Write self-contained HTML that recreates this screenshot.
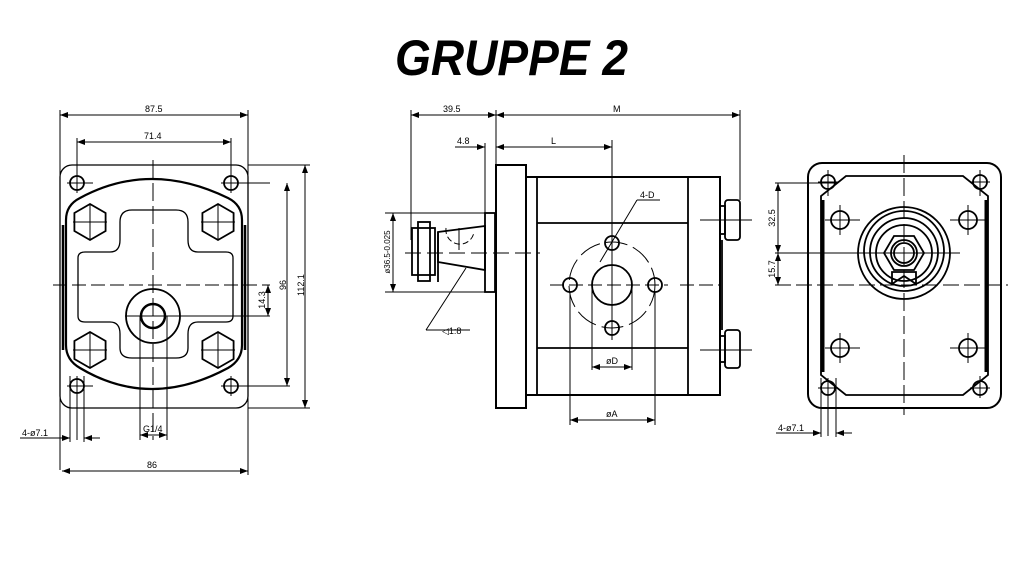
<!DOCTYPE html>
<html><head><meta charset="utf-8"><style>
html,body{margin:0;padding:0;background:#fff;width:1024px;height:576px;overflow:hidden}
svg{display:block}
text{font-family:"Liberation Sans",sans-serif;fill:#000}
</style></head><body>
<svg width="1024" height="576" viewBox="0 0 1024 576" xmlns="http://www.w3.org/2000/svg">
<defs>
<marker id="a" markerWidth="8" markerHeight="6" refX="8" refY="3" orient="auto-start-reverse" markerUnits="userSpaceOnUse"><path d="M0,0 L8,3 L0,6 z" fill="#000"/></marker>
</defs>
<text x="395" y="75" font-size="50" font-weight="bold" font-style="italic" textLength="233" lengthAdjust="spacingAndGlyphs">GRUPPE 2</text>

<g fill="none" stroke="#000" stroke-width="1.3">
<!-- LEFT VIEW -->
<rect x="60" y="165" width="188" height="243" rx="12"/>
<path d="M66,220 Q66,205 80,198 Q150,160 228,198 Q242,205 242,220 L242,345 Q242,360 228,368 Q150,410 80,368 Q66,360 66,345 Z" stroke-width="2.2"/>
<line x1="63" y1="225" x2="63" y2="350" stroke-width="2.5"/>
<line x1="245" y1="225" x2="245" y2="350" stroke-width="2.5"/>
<path d="M78,258 Q78,252 85,252 L110,252 Q120,252 120,240 L120,222 Q120,210 132,210 L176,210 Q188,210 188,222 L188,240 Q188,252 198,252 L226,252 Q233,252 233,258 L233,316 Q233,322 226,322 L198,322 Q188,322 188,334 L188,348 Q188,358 176,358 L132,358 Q120,358 120,348 L120,334 Q120,322 110,322 L85,322 Q78,322 78,316 Z"/>
<g stroke-width="1.8">
<circle cx="77" cy="183" r="7"/><circle cx="231" cy="183" r="7"/><circle cx="77" cy="386" r="7"/><circle cx="231" cy="386" r="7"/>
<polygon points="90,204 105.6,213 105.6,231 90,240 74.4,231 74.4,213"/>
<polygon points="218,204 233.6,213 233.6,231 218,240 202.4,231 202.4,213"/>
<polygon points="90,332 105.6,341 105.6,359 90,368 74.4,359 74.4,341"/>
<polygon points="218,332 233.6,341 233.6,359 218,368 202.4,359 202.4,341"/>
<circle cx="153" cy="316" r="27"/><circle cx="153" cy="316" r="12" stroke-width="2.5"/>
</g>
<g stroke-width="1">
<line x1="67" y1="183" x2="93" y2="183"/><line x1="77" y1="160" x2="77" y2="193"/>
<line x1="221" y1="183" x2="270" y2="183"/><line x1="231" y1="160" x2="231" y2="193"/>
<line x1="67" y1="386" x2="93" y2="386"/><line x1="77" y1="376" x2="77" y2="440"/>
<line x1="221" y1="386" x2="290" y2="386"/><line x1="231" y1="376" x2="231" y2="396"/>
<line x1="73" y1="222" x2="107" y2="222"/><line x1="90" y1="205" x2="90" y2="240"/>
<line x1="201" y1="222" x2="235" y2="222"/><line x1="218" y1="205" x2="218" y2="240"/>
<line x1="73" y1="350" x2="107" y2="350"/><line x1="90" y1="333" x2="90" y2="368"/>
<line x1="201" y1="350" x2="235" y2="350"/><line x1="218" y1="333" x2="218" y2="368"/>
<line x1="53" y1="285" x2="270" y2="285" stroke-dasharray="14,5"/>
<line x1="153" y1="160" x2="153" y2="440" stroke-dasharray="18,5"/>
<line x1="125" y1="316" x2="270" y2="316"/>
<line x1="140" y1="316" x2="140" y2="440"/><line x1="167" y1="316" x2="167" y2="440"/>
<line x1="60" y1="110" x2="60" y2="470"/><line x1="248" y1="110" x2="248" y2="475"/>
<line x1="60" y1="115" x2="248" y2="115" marker-start="url(#a)" marker-end="url(#a)"/>
<line x1="77" y1="138" x2="77" y2="160"/><line x1="231" y1="138" x2="231" y2="160"/>
<line x1="77" y1="142" x2="231" y2="142" marker-start="url(#a)" marker-end="url(#a)"/>
<line x1="248" y1="165" x2="310" y2="165"/><line x1="248" y1="408" x2="310" y2="408"/>
<line x1="305" y1="165" x2="305" y2="408" marker-start="url(#a)" marker-end="url(#a)"/>
<line x1="287" y1="183" x2="287" y2="386" marker-start="url(#a)" marker-end="url(#a)"/>
<line x1="268" y1="285" x2="268" y2="316" marker-start="url(#a)" marker-end="url(#a)"/>
<line x1="62" y1="471" x2="248" y2="471" marker-start="url(#a)" marker-end="url(#a)"/>
<line x1="140" y1="435" x2="167" y2="435" marker-start="url(#a)" marker-end="url(#a)"/>
<line x1="20" y1="438" x2="70" y2="438" marker-end="url(#a)"/><line x1="84" y1="438" x2="100" y2="438" marker-start="url(#a)"/>
<line x1="70" y1="376" x2="70" y2="442"/><line x1="84" y1="376" x2="84" y2="442"/>
</g>

<!-- MIDDLE VIEW -->
<rect x="496" y="165" width="30" height="243" stroke-width="2"/>
<rect x="526" y="177" width="194" height="218" stroke-width="2"/>
<line x1="537" y1="177" x2="537" y2="395" stroke-width="1.8"/>
<line x1="688" y1="177" x2="688" y2="395" stroke-width="1.8"/>
<line x1="537" y1="223" x2="688" y2="223" stroke-width="1.8"/>
<line x1="537" y1="348" x2="688" y2="348" stroke-width="1.8"/>
<g stroke-width="1.8">
<rect x="725" y="200" width="15" height="40" rx="3"/><rect x="720" y="206" width="5" height="28"/>
<rect x="725" y="330" width="15" height="38" rx="3"/><rect x="720" y="336" width="5" height="26"/>
<line x1="722" y1="240" x2="722" y2="330"/>
<circle cx="612" cy="285" r="20"/>
<circle cx="612" cy="243" r="7"/><circle cx="612" cy="328" r="7"/><circle cx="570" cy="285" r="7"/><circle cx="655" cy="285" r="7"/>
<rect x="485" y="213" width="10" height="79"/>
<polygon points="438,232 485,226 485,270 438,262"/>
<rect x="412" y="228" width="23" height="47"/>
<rect x="418" y="222" width="12" height="59"/>
<line x1="438" y1="232" x2="438" y2="282"/>
</g>
<g stroke-width="1">
<circle cx="612" cy="285" r="43" stroke-dasharray="22,6"/>
<path d="M446,228 A14,14 0 0 0 474,232" stroke-dasharray="6,3"/>
<line x1="459" y1="228" x2="459" y2="250"/>
<line x1="405" y1="253" x2="540" y2="253" stroke-dasharray="16,6"/>
<line x1="550" y1="285" x2="668" y2="285" stroke-dasharray="14,5"/>
<line x1="680" y1="285" x2="720" y2="285" stroke-dasharray="14,5"/>
<line x1="700" y1="220" x2="752" y2="220"/><line x1="700" y1="350" x2="752" y2="350"/>
<line x1="612" y1="140" x2="612" y2="340"/>
<line x1="592" y1="285" x2="592" y2="370"/><line x1="632" y1="285" x2="632" y2="370"/>
<line x1="592" y1="367" x2="632" y2="367" marker-start="url(#a)" marker-end="url(#a)"/>
<line x1="570" y1="292" x2="570" y2="425"/><line x1="655" y1="292" x2="655" y2="425"/>
<line x1="570" y1="420" x2="655" y2="420" marker-start="url(#a)" marker-end="url(#a)"/>
<line x1="600" y1="262" x2="637" y2="200"/><line x1="637" y1="200" x2="660" y2="200"/>
<line x1="411" y1="110" x2="411" y2="240"/><line x1="496" y1="110" x2="496" y2="165"/><line x1="740" y1="110" x2="740" y2="200"/>
<line x1="411" y1="115" x2="496" y2="115" marker-start="url(#a)" marker-end="url(#a)"/>
<line x1="496" y1="115" x2="740" y2="115" marker-start="url(#a)" marker-end="url(#a)"/>
<line x1="485" y1="143" x2="485" y2="213"/>
<line x1="455" y1="147" x2="485" y2="147" marker-end="url(#a)"/>
<line x1="496" y1="147" x2="612" y2="147" marker-start="url(#a)" marker-end="url(#a)"/>
<line x1="385" y1="213" x2="485" y2="213"/><line x1="385" y1="292" x2="485" y2="292"/>
<line x1="393" y1="213" x2="393" y2="292" marker-start="url(#a)" marker-end="url(#a)"/>
<line x1="426" y1="330" x2="466" y2="268"/><line x1="426" y1="330" x2="470" y2="330"/>
</g>

<!-- RIGHT VIEW -->
<rect x="808" y="163" width="193" height="245" rx="14" stroke-width="2"/>
<polygon points="846,176 963,176 988,196 988,375 963,395 846,395 821,375 821,196" stroke-width="1.8"/>
<line x1="823" y1="200" x2="823" y2="372" stroke-width="3"/>
<line x1="986" y1="200" x2="986" y2="372" stroke-width="3"/>
<g stroke-width="1.8">
<circle cx="828" cy="182" r="7"/><circle cx="980" cy="182" r="7"/><circle cx="828" cy="388" r="7"/><circle cx="980" cy="388" r="7"/>
<circle cx="840" cy="220" r="9"/><circle cx="968" cy="220" r="9"/><circle cx="840" cy="348" r="9"/><circle cx="968" cy="348" r="9"/>
<circle cx="904" cy="253" r="46"/><circle cx="904" cy="251" r="40"/><circle cx="904" cy="252" r="34"/><circle cx="904" cy="253" r="28"/>
<polygon points="924,253 914,270 894,270 884,253 894,236 914,236"/>
<circle cx="904" cy="253" r="13"/><circle cx="904" cy="253" r="10"/>
<path d="M892,272 L916,272 L916,284 L904,276 L892,284 Z"/>
</g>
<g stroke-width="1">
<line x1="904" y1="155" x2="904" y2="415" stroke-dasharray="18,5"/>
<line x1="775" y1="285" x2="1008" y2="285" stroke-dasharray="16,5"/>
<line x1="775" y1="253" x2="960" y2="253"/>
<line x1="775" y1="183" x2="838" y2="183"/>
<line x1="778" y1="183" x2="778" y2="253" marker-start="url(#a)" marker-end="url(#a)"/>
<line x1="778" y1="253" x2="778" y2="285" marker-start="url(#a)" marker-end="url(#a)"/>
<line x1="818" y1="182" x2="838" y2="182"/><line x1="828" y1="170" x2="828" y2="196"/>
<line x1="970" y1="182" x2="990" y2="182"/><line x1="980" y1="170" x2="980" y2="196"/>
<line x1="818" y1="388" x2="838" y2="388"/><line x1="828" y1="378" x2="828" y2="436"/>
<line x1="970" y1="388" x2="990" y2="388"/><line x1="980" y1="376" x2="980" y2="398"/>
<line x1="825" y1="220" x2="860" y2="220"/><line x1="840" y1="205" x2="840" y2="235"/>
<line x1="950" y1="220" x2="985" y2="220"/><line x1="968" y1="205" x2="968" y2="235"/>
<line x1="825" y1="348" x2="860" y2="348"/><line x1="840" y1="333" x2="840" y2="363"/>
<line x1="950" y1="348" x2="985" y2="348"/><line x1="968" y1="333" x2="968" y2="363"/>
<line x1="821" y1="378" x2="821" y2="437"/><line x1="836" y1="378" x2="836" y2="437"/>
<line x1="776" y1="433" x2="821" y2="433" marker-end="url(#a)"/><line x1="836" y1="433" x2="852" y2="433" marker-start="url(#a)"/>
</g>
</g>

<g font-size="9">
<text x="145" y="112">87.5</text>
<text x="144" y="139">71.4</text>
<text x="147" y="468">86</text>
<text x="143" y="432">G1/4</text>
<text x="22" y="436">4-ø7.1</text>
<text x="262" y="303" text-anchor="middle" transform="rotate(-90 262 300)">14.3</text>
<text x="283" y="288" text-anchor="middle" transform="rotate(-90 283 285)">96</text>
<text x="301" y="288" text-anchor="middle" transform="rotate(-90 301 285)">112.1</text>
<text x="443" y="112">39.5</text>
<text x="613" y="112">M</text>
<text x="457" y="144">4.8</text>
<text x="551" y="144">L</text>
<text x="640" y="198">4-D</text>
<text x="606" y="364">øD</text>
<text x="606" y="417">øA</text>
<text x="442" y="334">◁1:8</text>
<text x="387" y="255" font-size="8" text-anchor="middle" transform="rotate(-90 387 252)">ø36.5-0.025</text>
<text x="772" y="221" text-anchor="middle" transform="rotate(-90 772 218)">32.5</text>
<text x="772" y="272" text-anchor="middle" transform="rotate(-90 772 269)">15.7</text>
<text x="778" y="431">4-ø7.1</text>
</g>
</svg>
</body></html>
